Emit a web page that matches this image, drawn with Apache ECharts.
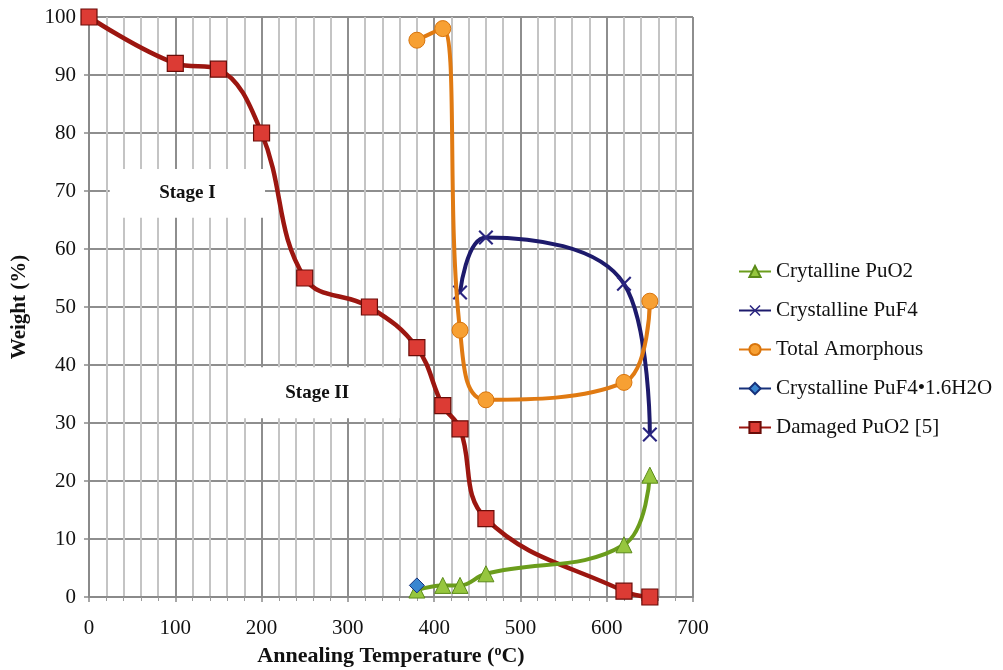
<!DOCTYPE html>
<html>
<head>
<meta charset="utf-8">
<style>
    html, body { margin: 0; padding: 0; background: #fff; }
    #chart { width: 1003px; height: 670px; }
</style>
<script src="https://cdn.jsdelivr.net/npm/echarts@6/dist/echarts.min.js"></script>
</head>
<body>
<div id="chart"></div>
<script>
    // data (temperature in °C, weight in %)
    var pubO2Temp = [380, 410, 430, 460, 620, 650];
    var pubO2Val = [1.2, 2, 2, 4, 9, 21];
    var puF4Temp = [430, 460, 620, 650];
    var puF4Val = [52.5, 62, 54, 28];
    var amorphTemp = [380, 410, 430, 460, 620, 650];
    var amorphVal = [96, 98, 46, 34, 37, 51];
    var hydrateTemp = [380];
    var hydrateVal = [2];
    var damagedTemp = [0, 100, 150, 200, 250, 325, 380, 410, 430, 460, 620, 650];
    var damagedVal = [100, 92, 91, 80, 55, 50, 43, 33, 29, 13.5, 1, 0];
    var seriesNames = ['Crytalline PuO2', 'Crystalline PuF4', 'Total Amorphous',
        'Crystalline PuF4•1.6H2O', 'Damaged PuO2 [5]'];

    function pairs(xs, ys) {
        return xs.map(function (x, i) { return [x, ys[i]]; });
    }

    var serif = '"Liberation Serif", "DejaVu Serif", serif';
    var crossPath = 'path://M0,1 L1,0 L5,4 L9,0 L10,1 L6,5 L10,9 L9,10 L5,6 L1,10 L0,9 L4,5 Z';

    var myChart = echarts.init(document.getElementById('chart'));
    var option = {
        backgroundColor: '#fff',
        animation: false,
        grid: { left: 89, right: 310, top: 17, bottom: 73, outerBoundsMode: 'none' },
        legend: {
            orient: 'vertical',
            left: 733,
            top: 256,
            itemGap: 18,
            itemWidth: 32,
            itemHeight: 14,
            textStyle: { fontFamily: serif, fontSize: 21, color: '#111' },
            data: seriesNames
        },
        xAxis: {
            type: 'value',
            min: 0, max: 700, interval: 100,
            name: '{t|Annealing Temperature (}{s|o}{t|C)}',
            nameLocation: 'middle',
            nameGap: 47,
            nameTextStyle: {
                rich: {
                    t: { fontFamily: serif, fontSize: 22, fontWeight: 'bold', color: '#111' },
                    s: { fontFamily: serif, fontSize: 14, fontWeight: 'bold', color: '#111', verticalAlign: 'top', padding: [0, 0, 10, 0] }
                }
            },
            axisLine: { lineStyle: { color: '#8a8a8a', width: 2 } },
            axisTick: { show: true, length: 5, lineStyle: { color: '#8a8a8a', width: 1.5 } },
            minorTick: { show: true, splitNumber: 5, length: 4, lineStyle: { color: '#9a9a9a' } },
            axisLabel: { fontFamily: serif, fontSize: 21, color: '#111', margin: 21 },
            splitLine: { show: true, lineStyle: { color: '#8e8e8e', width: 2 } },
            minorSplitLine: { show: true, lineStyle: { color: '#c4c4c4', width: 2 } }
        },
        yAxis: {
            type: 'value',
            min: 0, max: 100, interval: 10,
            name: 'Weight (%)',
            nameLocation: 'middle',
            nameGap: 59,
            nameTextStyle: { fontFamily: serif, fontSize: 21, fontWeight: 'bold', color: '#111' },
            axisLine: { show: true, lineStyle: { color: '#8a8a8a', width: 2 } },
            axisTick: { show: true, length: 5, lineStyle: { color: '#8a8a8a', width: 1.5 } },
            axisLabel: { fontFamily: serif, fontSize: 21, color: '#111', margin: 13 },
            splitLine: { show: true, lineStyle: { color: '#8e8e8e', width: 2 } }
        },
        series: [{
            name: seriesNames[4],
            type: 'line',
            smooth: 0.4,
            z: 2,
            data: pairs(damagedTemp, damagedVal),
            symbol: 'rect',
            symbolSize: 16,
            lineStyle: { color: '#9c1610', width: 4.5 },
            itemStyle: { color: '#dc3b34', borderColor: '#6a0c08', borderWidth: 1.2 },
            markArea: {
                silent: true,
                itemStyle: { color: '#ffffff', opacity: 1 },
                label: { show: true, position: 'inside', fontFamily: serif, fontSize: 19, fontWeight: 'bold', color: '#111' },
                data: [
                    [{ name: 'Stage I', coord: [24, 73.8] }, { coord: [204, 65.4] }],
                    [{ name: 'Stage II', coord: [169, 39.6] }, { coord: [360, 30.8] }]
                ]
            }
        }, {
            name: seriesNames[0],
            type: 'line',
            smooth: 0.4,
            z: 3,
            data: pairs(pubO2Temp, pubO2Val),
            symbol: 'triangle',
            symbolSize: 16,
            lineStyle: { color: '#6b9d1c', width: 4 },
            itemStyle: { color: '#96c63e', borderColor: '#5a8a18', borderWidth: 1 }
        }, {
            name: seriesNames[1],
            type: 'line',
            smooth: 0.4,
            z: 3,
            data: pairs(puF4Temp, puF4Val),
            symbol: crossPath,
            symbolSize: 15,
            lineStyle: { color: '#1d1a6c', width: 4 },
            itemStyle: { color: '#2a2580' }
        }, {
            name: seriesNames[2],
            type: 'line',
            smooth: 0.4,
            z: 4,
            data: pairs(amorphTemp, amorphVal),
            symbol: 'circle',
            symbolSize: 16,
            lineStyle: { color: '#e07a12', width: 4 },
            itemStyle: { color: '#f7a033', borderColor: '#d8740c', borderWidth: 1 }
        }, {
            name: seriesNames[3],
            type: 'line',
            z: 5,
            data: pairs(hydrateTemp, hydrateVal),
            symbol: 'diamond',
            symbolSize: 15,
            lineStyle: { color: '#16307a', width: 4 },
            itemStyle: { color: '#3a86d0', borderColor: '#16307a', borderWidth: 1 }
        }]
    };
    myChart.setOption(option);
</script>
</body>
</html>
